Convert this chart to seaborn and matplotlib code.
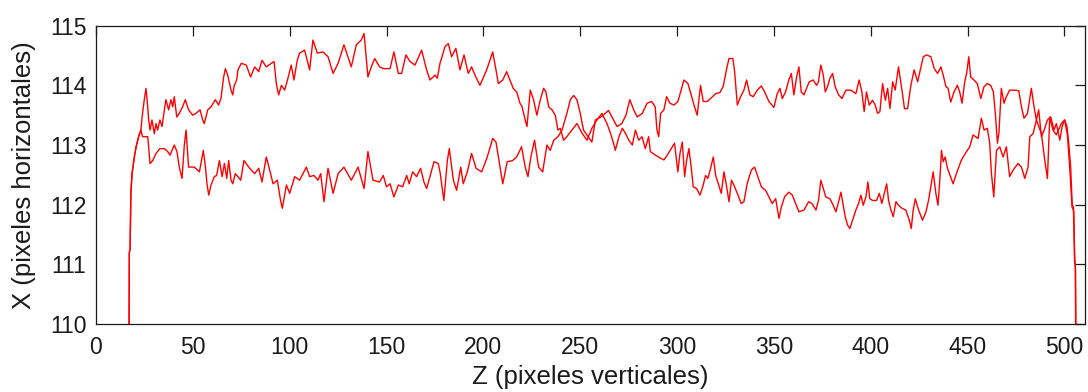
import matplotlib
matplotlib.use("Agg")
import matplotlib.pyplot as plt
import seaborn as sns
import pandas as pd
from matplotlib import font_manager

# ---------------- data ----------------
z_a = [17.0, 17.2, 17.6, 18.0, 18.6, 19.8, 20.7, 22.0, 23.2, 23.8, 25.0, 25.8, 26.7, 27.2, 27.9, 28.9,
       30.1, 31.0, 31.8, 33.0, 34.1, 35.3, 36.1, 37.5, 38.7, 39.6, 40.4, 41.7, 43.0, 44.7, 46.1, 47.8,
       49.9, 51.6, 53.7, 55.1, 55.9, 57.7, 59.4, 61.6, 63.3, 64.5, 65.9, 66.8, 68.0, 69.7, 70.6, 71.4,
       72.6, 73.3, 75.0, 77.6, 79.8, 81.9, 84.0, 85.7, 87.9, 91.9, 93.1, 94.3, 95.7, 97.4, 99.1, 100.8,
       102.2, 103.9, 105.1, 107.7, 110.3, 112.0, 114.3, 117.2, 119.8, 122.4, 125.0, 128.0, 131.8, 134.4,
       137.0, 138.4, 140.4, 142.1, 143.9, 146.4, 148.5, 151.8, 153.8, 156.1, 157.8, 160.0, 162.1, 164.7,
       168.1, 170.7, 172.4, 175.0, 176.2, 177.6, 180.2, 181.9, 183.6, 185.8, 187.9, 190.0, 192.2, 193.9,
       195.7, 198.2, 201.7, 204.8, 206.5, 207.7, 210.0, 212.0, 215.4, 217.2, 218.9, 219.9, 221.6, 222.5,
       224.2, 225.9, 227.6, 229.4, 231.1, 232.3, 233.7, 235.4, 237.1, 238.5, 239.7, 241.4, 243.1, 245.7,
       248.3, 250.9, 253.5, 256.0, 258.6, 261.2, 263.8, 265.6, 267.3, 268.1, 270.0, 271.7, 273.3, 275.1,
       276.9, 278.5, 280.2, 281.9, 283.6, 285.3, 286.2, 288.8, 291.4, 293.2, 294.9, 297.0, 298.7, 300.4,
       301.5, 302.7, 303.9, 304.9, 306.1, 307.3, 308.3, 310.1, 311.8, 313.5, 314.7, 315.9, 317.3, 318.7,
       319.9, 321.3, 322.8, 324.2, 325.6, 326.8, 328.1, 329.3, 331.1, 333.1, 334.5, 336.2, 338.3, 340.0,
       341.7, 343.5, 345.7, 347.4, 349.1, 350.9, 352.6, 353.8, 355.5, 357.7, 359.5, 361.2, 362.9, 365.5,
       367.9, 369.6, 371.7, 373.0, 374.2, 375.5, 376.8, 378.9, 380.6, 382.0, 383.4, 384.6, 385.8, 386.8,
       388.0, 389.2, 390.6, 392.3, 393.7, 394.9, 396.1, 397.5, 398.5, 399.5, 400.9, 403.0, 404.4, 405.7,
       407.0, 408.2, 409.2, 410.4, 411.6, 413.0, 414.3, 416.1, 418.1, 419.9, 420.9, 421.9, 423.0, 424.2,
       425.4, 426.7, 428.5, 429.8, 431.0, 432.2, 433.6, 434.7, 435.7, 436.5, 437.4, 438.4, 439.6, 442.5,
       444.2, 446.8, 449.4, 451.1, 452.8, 455.4, 457.1, 458.5, 460.2, 461.4, 462.3, 463.5, 464.9, 466.6,
       468.3, 470.0, 471.7, 473.5, 476.0, 477.8, 479.5, 481.2, 482.1, 483.8, 485.5, 488.1, 489.8, 491.2,
       492.4, 494.1, 495.8, 498.4, 500.1, 501.5, 502.7, 503.9, 504.8, 505.2, 505.6, 505.9]
x_a = [109.0, 111.2, 111.25, 112.19, 112.52, 112.8, 112.97, 113.14, 113.25, 113.47, 113.78, 113.95, 113.64,
       113.42, 113.25, 113.42, 113.19, 113.36, 113.25, 113.42, 113.31, 113.59, 113.76, 113.59, 113.76,
       113.64, 113.81, 113.47, 113.53, 113.64, 113.76, 113.59, 113.50, 113.53, 113.59, 113.42, 113.36,
       113.59, 113.64, 113.76, 113.67, 113.78, 114.14, 114.28, 114.17, 113.92, 113.84, 114.00, 114.09,
       114.26, 114.37, 114.34, 114.14, 114.31, 114.23, 114.42, 114.31, 114.40, 114.03, 113.84, 114.00,
       113.92, 114.12, 114.34, 114.09, 114.42, 114.54, 114.59, 114.26, 114.76, 114.54, 114.56, 114.48,
       114.20, 114.37, 114.68, 114.31, 114.68, 114.76, 114.87, 114.14, 114.31, 114.45, 114.31, 114.28,
       114.28, 114.56, 114.20, 114.20, 114.51, 114.40, 114.34, 114.59, 114.26, 114.09, 114.17, 114.12,
       114.37, 114.65, 114.70, 114.48, 114.62, 114.26, 114.51, 114.20, 114.31, 114.17, 114.00, 114.26,
       114.56, 114.26, 114.03, 114.09, 114.23, 113.95, 113.89, 113.70, 113.65, 113.42, 113.31, 113.92,
       113.76, 113.50, 113.76, 113.95, 113.89, 113.64, 113.59, 113.50, 113.25, 113.28, 113.08, 113.14,
       113.25, 113.36, 113.20, 113.08, 113.28, 113.42, 113.53, 113.36, 113.20, 113.02, 112.91, 113.14,
       113.28, 113.20, 113.08, 113.00, 113.25, 113.08, 113.14, 112.94, 113.14, 112.89, 112.83, 112.78,
       112.75, 112.83, 112.94, 113.03, 112.55, 112.86, 113.05, 112.47, 112.74, 112.94, 112.63, 112.30,
       112.27, 112.16, 112.33, 112.49, 112.44, 112.61, 112.80, 112.49, 112.35, 112.19, 112.55, 112.30,
       112.05, 112.41, 112.33, 112.19, 112.02, 112.05, 112.35, 112.58, 112.63, 112.47, 112.30, 112.24,
       112.13, 112.02, 112.10, 111.77, 111.96, 112.13, 112.21, 112.16, 112.02, 111.88, 111.91, 112.05,
       112.02, 111.91, 112.07, 112.41, 112.27, 112.13, 112.10, 111.99, 111.88, 112.05, 112.21, 111.99,
       111.80, 111.66, 111.60, 111.74, 111.91, 112.02, 112.16, 111.99, 112.13, 112.38, 112.10, 112.07,
       112.07, 112.19, 112.02, 112.19, 112.35, 112.07, 111.91, 111.80, 112.05, 111.99, 111.94, 111.91,
       111.74, 111.60, 111.91, 112.10, 111.96, 111.85, 111.74, 111.88, 112.07, 112.30, 112.55, 112.19,
       111.99, 112.44, 112.91, 112.72, 112.80, 112.61, 112.35, 112.52, 112.75, 112.89, 112.97, 113.17,
       113.11, 113.45, 113.25, 113.28, 113.03, 112.52, 112.13, 112.91, 112.97, 112.80, 112.97, 112.47,
       112.58, 112.69, 112.63, 112.44, 112.63, 113.14, 113.19, 113.42, 113.19, 112.75, 112.44, 113.47,
       113.25, 113.17, 113.36, 113.42, 113.17, 112.63, 111.96, 111.90, 111.05, 111.00, 109.0]

z_b = [17.0, 17.2, 17.6, 18.0, 18.6, 19.8, 20.7, 22.0, 23.2, 24.0, 26.7, 27.9, 29.3, 31.0, 33.0, 35.3,
       37.0, 38.2, 40.4, 41.8, 43.0, 44.4, 45.6, 46.5, 47.8, 50.8, 53.4, 55.4, 56.5, 57.3, 58.2, 59.4,
       61.1, 62.3, 63.7, 65.1, 66.3, 67.5, 68.5, 69.7, 70.6, 71.9, 73.3, 74.7, 76.4, 79.3, 81.9, 84.0,
       85.7, 87.9, 89.7, 91.4, 93.6, 95.3, 96.2, 98.3, 100.0, 102.6, 105.1, 108.6, 110.3, 112.5, 114.6,
       116.0, 117.7, 119.8, 122.4, 125.0, 128.0, 131.8, 135.3, 138.4, 140.4, 143.0, 146.4, 148.3, 150.0,
       151.8, 153.8, 156.1, 158.3, 160.4, 161.7, 163.5, 165.5, 167.6, 169.3, 170.7, 172.4, 174.5, 176.7,
       177.6, 179.6, 181.4, 182.4, 184.5, 186.2, 188.3, 189.6, 191.7, 193.9, 196.2, 199.1, 202.0, 204.8,
       206.5, 208.6, 210.0, 212.3, 215.1, 217.2, 219.7, 221.6, 223.0, 224.5, 226.4, 228.5, 230.6, 232.8,
       234.5, 236.3, 238.5, 240.6, 243.1, 244.9, 246.6, 248.3, 250.0, 251.7, 254.0, 256.0, 257.8, 261.2,
       264.6, 267.2, 269.0, 271.5, 273.6, 275.6, 277.6, 279.4, 282.0, 284.5, 286.9, 288.7, 289.6, 290.5,
       291.5, 293.2, 294.6, 296.3, 298.4, 300.4, 302.1, 303.5, 305.6, 307.3, 309.0, 310.4, 312.1, 313.5,
       315.6, 317.3, 319.9, 322.1, 323.8, 325.6, 326.8, 328.8, 329.7, 331.1, 332.8, 334.5, 335.9, 337.6,
       339.3, 341.4, 343.5, 345.2, 347.4, 350.0, 351.7, 353.1, 354.3, 356.0, 357.7, 359.0, 360.3, 361.7,
       362.9, 364.1, 365.5, 368.2, 370.3, 372.0, 373.0, 374.2, 375.5, 376.5, 377.7, 378.9, 380.3, 381.6,
       383.4, 385.1, 387.2, 389.7, 392.3, 394.0, 395.4, 396.6, 397.8, 399.2, 400.9, 402.3, 403.5, 404.7,
       406.1, 407.5, 408.7, 409.9, 411.3, 412.6, 414.3, 416.1, 417.4, 419.0, 420.7, 422.4, 424.2, 425.9,
       427.1, 428.8, 431.0, 432.8, 434.5, 436.2, 437.4, 438.8, 439.9, 441.3, 443.0, 444.7, 445.9, 447.1,
       448.5, 449.5, 450.6, 451.6, 453.3, 455.0, 456.8, 458.5, 460.2, 461.9, 463.3, 464.3, 465.4, 466.2,
       467.4, 468.8, 470.0, 471.7, 474.3, 476.4, 477.8, 479.1, 480.9, 482.9, 484.3, 485.5, 486.7, 488.1,
       489.5, 491.2, 492.9, 494.6, 495.8, 497.6, 498.8, 500.1, 501.3, 502.2, 503.2, 504.0, 504.6, 505.3,
       505.7, 506.1]
x_b = [109.0, 111.2, 111.25, 112.19, 112.52, 112.8, 112.97, 113.14, 113.25, 113.14, 113.14, 112.69, 112.74,
       112.86, 112.94, 112.94, 112.89, 112.83, 113.00, 112.89, 112.63, 112.44, 113.00, 113.25, 112.63,
       112.63, 112.55, 112.91, 112.63, 112.35, 112.16, 112.33, 112.47, 112.49, 112.74, 112.47, 112.69,
       112.44, 112.74, 112.41, 112.35, 112.52, 112.47, 112.41, 112.74, 112.61, 112.52, 112.61, 112.38,
       112.80, 112.58, 112.35, 112.41, 112.07, 111.94, 112.33, 112.19, 112.47, 112.41, 112.63, 112.47,
       112.49, 112.41, 112.52, 112.05, 112.61, 112.19, 112.52, 112.63, 112.41, 112.63, 112.27, 112.89,
       112.41, 112.38, 112.49, 112.30, 112.35, 112.13, 112.33, 112.30, 112.49, 112.35, 112.55, 112.47,
       112.61, 112.38, 112.27, 112.47, 112.72, 112.69, 112.55, 112.07, 112.74, 112.94, 112.41, 112.24,
       112.63, 112.35, 112.55, 112.86, 112.61, 112.55, 112.80, 113.11, 113.05, 112.63, 112.35, 112.72,
       112.74, 112.80, 112.97, 112.63, 112.47, 112.80, 113.08, 112.63, 112.55, 113.00, 112.91, 113.08,
       113.14, 113.25, 113.53, 113.76, 113.83, 113.76, 113.53, 113.25, 113.14, 113.05, 113.42, 113.48,
       113.58, 113.42, 113.31, 113.36, 113.50, 113.76, 113.59, 113.47, 113.53, 113.70, 113.73, 113.64,
       113.25, 113.14, 113.53, 113.59, 113.81, 113.70, 113.67, 113.73, 113.92, 114.09, 114.03, 113.84,
       113.64, 113.50, 114.00, 113.73, 113.73, 113.78, 113.86, 113.88, 113.98, 114.28, 114.45, 114.45,
       114.23, 113.67, 113.81, 113.92, 114.09, 113.84, 113.81, 113.92, 113.99, 113.89, 113.73, 113.63,
       113.86, 113.95, 113.78, 113.89, 114.09, 114.20, 113.84, 114.14, 114.31, 113.89, 113.84, 114.06,
       114.09, 114.00, 114.06, 114.34, 114.17, 113.89, 113.98, 114.12, 114.20, 113.98, 113.84, 113.78,
       113.92, 113.92, 113.86, 114.09, 113.89, 113.56, 113.89, 113.67, 113.75, 113.67, 113.53, 113.56,
       114.03, 113.75, 113.95, 113.61, 114.06, 113.92, 114.31, 113.92, 113.61, 113.61, 114.00, 114.26,
       114.06, 114.31, 114.48, 114.51, 114.48, 114.28, 114.20, 114.31, 114.17, 113.98, 113.95, 113.72,
       113.89, 114.00, 113.89, 113.70, 114.06, 114.20, 114.48, 114.14, 114.09, 114.03, 113.78, 113.98,
       114.03, 114.00, 113.89, 113.53, 113.03, 113.22, 113.95, 113.70, 113.81, 113.92, 113.92, 113.91,
       113.64, 113.45, 113.53, 113.95, 113.64, 113.42, 113.59, 113.14, 113.25, 113.42, 113.47, 113.25,
       113.36, 113.08, 113.31, 113.42, 113.31, 113.03, 112.63, 112.00, 111.96, 111.10, 110.9, 109.0]

x_ticks = [0, 50, 100, 150, 200, 250, 300, 350, 400, 450, 500]
y_ticks = [110, 111, 112, 113, 114, 115]
x_label = "Z (pixeles verticales)"
y_label = "X (pixeles horizontales)"

# ---------------- style ----------------
sns.set_style("white")
names = {f.name for f in font_manager.fontManager.ttflist}
fam = ["Liberation Sans Narrow", "DejaVu Sans"] if "Liberation Sans Narrow" in names else ["Liberation Sans", "DejaVu Sans"]
plt.rcParams["font.family"] = fam
plt.rcParams["font.size"] = 16

fig = plt.figure(figsize=(10.88, 3.92), dpi=100)
ax = fig.add_axes([96 / 1088, 68 / 392, 989 / 1088, 298.3 / 392])

df_a = pd.DataFrame({"z": z_a, "x": x_a})
df_b = pd.DataFrame({"z": z_b, "x": x_b})
sns.lineplot(data=df_a, x="z", y="x", color="#ff0000", linewidth=1.0, estimator=None, sort=False, ax=ax)
sns.lineplot(data=df_b, x="z", y="x", color="#ff0000", linewidth=1.0, estimator=None, sort=False, ax=ax)

ax.set_xlim(0, 510.6)
ax.set_ylim(110, 115)
ax.set_xticks(x_ticks)
ax.set_yticks(y_ticks)
ax.set_xticklabels([str(t) for t in x_ticks])
ax.set_yticklabels([str(t) for t in y_ticks])
for s in ax.spines.values():
    s.set_visible(True)
    s.set_color("#1a1a1a")
    s.set_linewidth(0.9)
ax.tick_params(direction="in", length=7, width=0.9, color="#1a1a1a",
               top=True, right=True, labelsize=16.5, colors="#1a1a1a")
ax.tick_params(axis="x", pad=9)
ax.tick_params(axis="y", pad=7)
ax.set_xlabel(x_label, fontsize=18.5, color="#1a1a1a", labelpad=4)
ax.set_ylabel(y_label, fontsize=18.5, color="#1a1a1a", labelpad=10)

fig.savefig("out.png", dpi=100)
